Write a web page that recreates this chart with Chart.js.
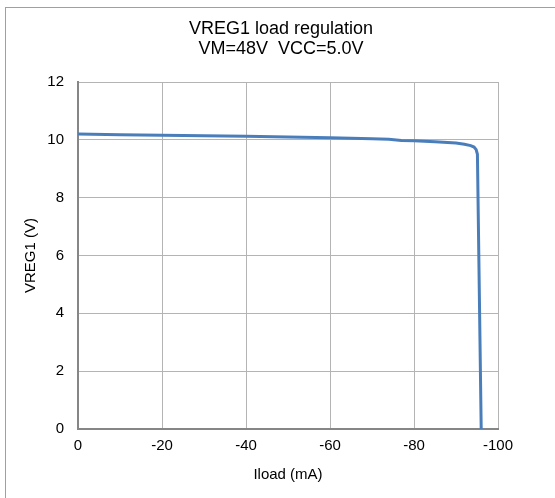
<!DOCTYPE html>
<html>
<head>
    <title>VREG1 load regulation</title>
    <script src="https://cdn.jsdelivr.net/npm/chart.js"></script>
    <style>
        html, body {
            margin: 0;
            padding: 0;
            background-color: #ffffff;
            overflow: hidden;
        }
        .frame {
            position: absolute;
            left: 5px;
            top: 7px;
            width: 600px;
            height: 600px;
            border-left: 1px solid #a0a0a0;
            border-top: 1px solid #a0a0a0;
        }
        .chart-box {
            position: absolute;
            left: 0;
            top: 0;
            width: 555px;
            height: 498px;
        }
    </style>
</head>
<body>
    <div class="frame"></div>
    <div class="chart-box">
        <canvas id="load-chart"></canvas>
    </div>
<script>
    // load current (mA) and VREG1 output (V)
    var iload = [0, -10, -20, -30, -40, -50, -60, -70, -74, -77, -80, -85, -90, -92, -93.5, -94.3, -94.8, -95.1, -96.0];
    var vreg1 = [10.20, 10.18, 10.16, 10.14, 10.12, 10.10, 10.07, 10.04, 10.02, 9.98, 9.97, 9.93, 9.89, 9.85, 9.80, 9.75, 9.66, 9.50, 0];

    var titleLines = ['VREG1 load regulation', 'VM=48V  VCC=5.0V'];
    var xTitle = 'Iload (mA)';
    var yTitle = 'VREG1 (V)';

    var fontFamily = '"Liberation Sans", Arial, sans-serif';

    var points = iload.map(function (x, i) {
        return { x: x, y: vreg1[i] };
    });

    // two-line heading, centred over the frame like the original
    var headingPlugin = {
        id: 'heading',
        afterDraw: function (chart) {
            var ctx = chart.ctx;
            ctx.save();
            ctx.fillStyle = '#000000';
            ctx.font = '18px ' + fontFamily;
            ctx.textAlign = 'center';
            ctx.textBaseline = 'middle';
            ctx.fillText(titleLines[0], 281, 29);
            ctx.fillText(titleLines[1], 281, 49);
            ctx.restore();
        }
    };

    var ctx = document.getElementById('load-chart').getContext('2d');
    var loadChart = new Chart(ctx, {
        type: 'scatter',
        data: {
            datasets: [{
                label: 'VREG1',
                data: points,
                showLine: true,
                borderColor: '#4a7ebb',
                backgroundColor: '#4a7ebb',
                borderWidth: 3,
                pointRadius: 0,
                tension: 0
            }]
        },
        options: {
            responsive: true,
            maintainAspectRatio: false,
            animation: false,
            layout: {
                padding: { top: 82, right: 57, bottom: 0, left: 0 }
            },
            plugins: {
                legend: { display: false },
                title: { display: false },
                tooltip: { enabled: false }
            },
            scales: {
                x: {
                    type: 'linear',
                    min: -100,
                    max: 0,
                    reverse: true,
                    afterFit: function (scale) { scale.height = 69; },
                    ticks: {
                        stepSize: 20,
                        padding: 8,
                        color: '#000000',
                        font: { family: fontFamily, size: 15 }
                    },
                    grid: { color: '#b4b4b4', lineWidth: 1, drawTicks: false },
                    border: { color: '#868686', width: 2 },
                    title: {
                        display: true,
                        text: xTitle,
                        color: '#000000',
                        font: { family: fontFamily, size: 15 },
                        padding: { top: 0, bottom: 14 }
                    }
                },
                y: {
                    min: 0,
                    max: 12,
                    afterFit: function (scale) { scale.width = 78; },
                    ticks: {
                        stepSize: 2,
                        padding: 14,
                        color: '#000000',
                        font: { family: fontFamily, size: 15 }
                    },
                    grid: { color: '#b4b4b4', lineWidth: 1, drawTicks: false },
                    border: { color: '#868686', width: 2 },
                    title: {
                        display: true,
                        text: yTitle,
                        color: '#000000',
                        font: { family: fontFamily, size: 15 },
                        padding: { top: 22, bottom: 0 }
                    }
                }
            }
        },
        plugins: [headingPlugin]
    });
</script>
</body>
</html>
